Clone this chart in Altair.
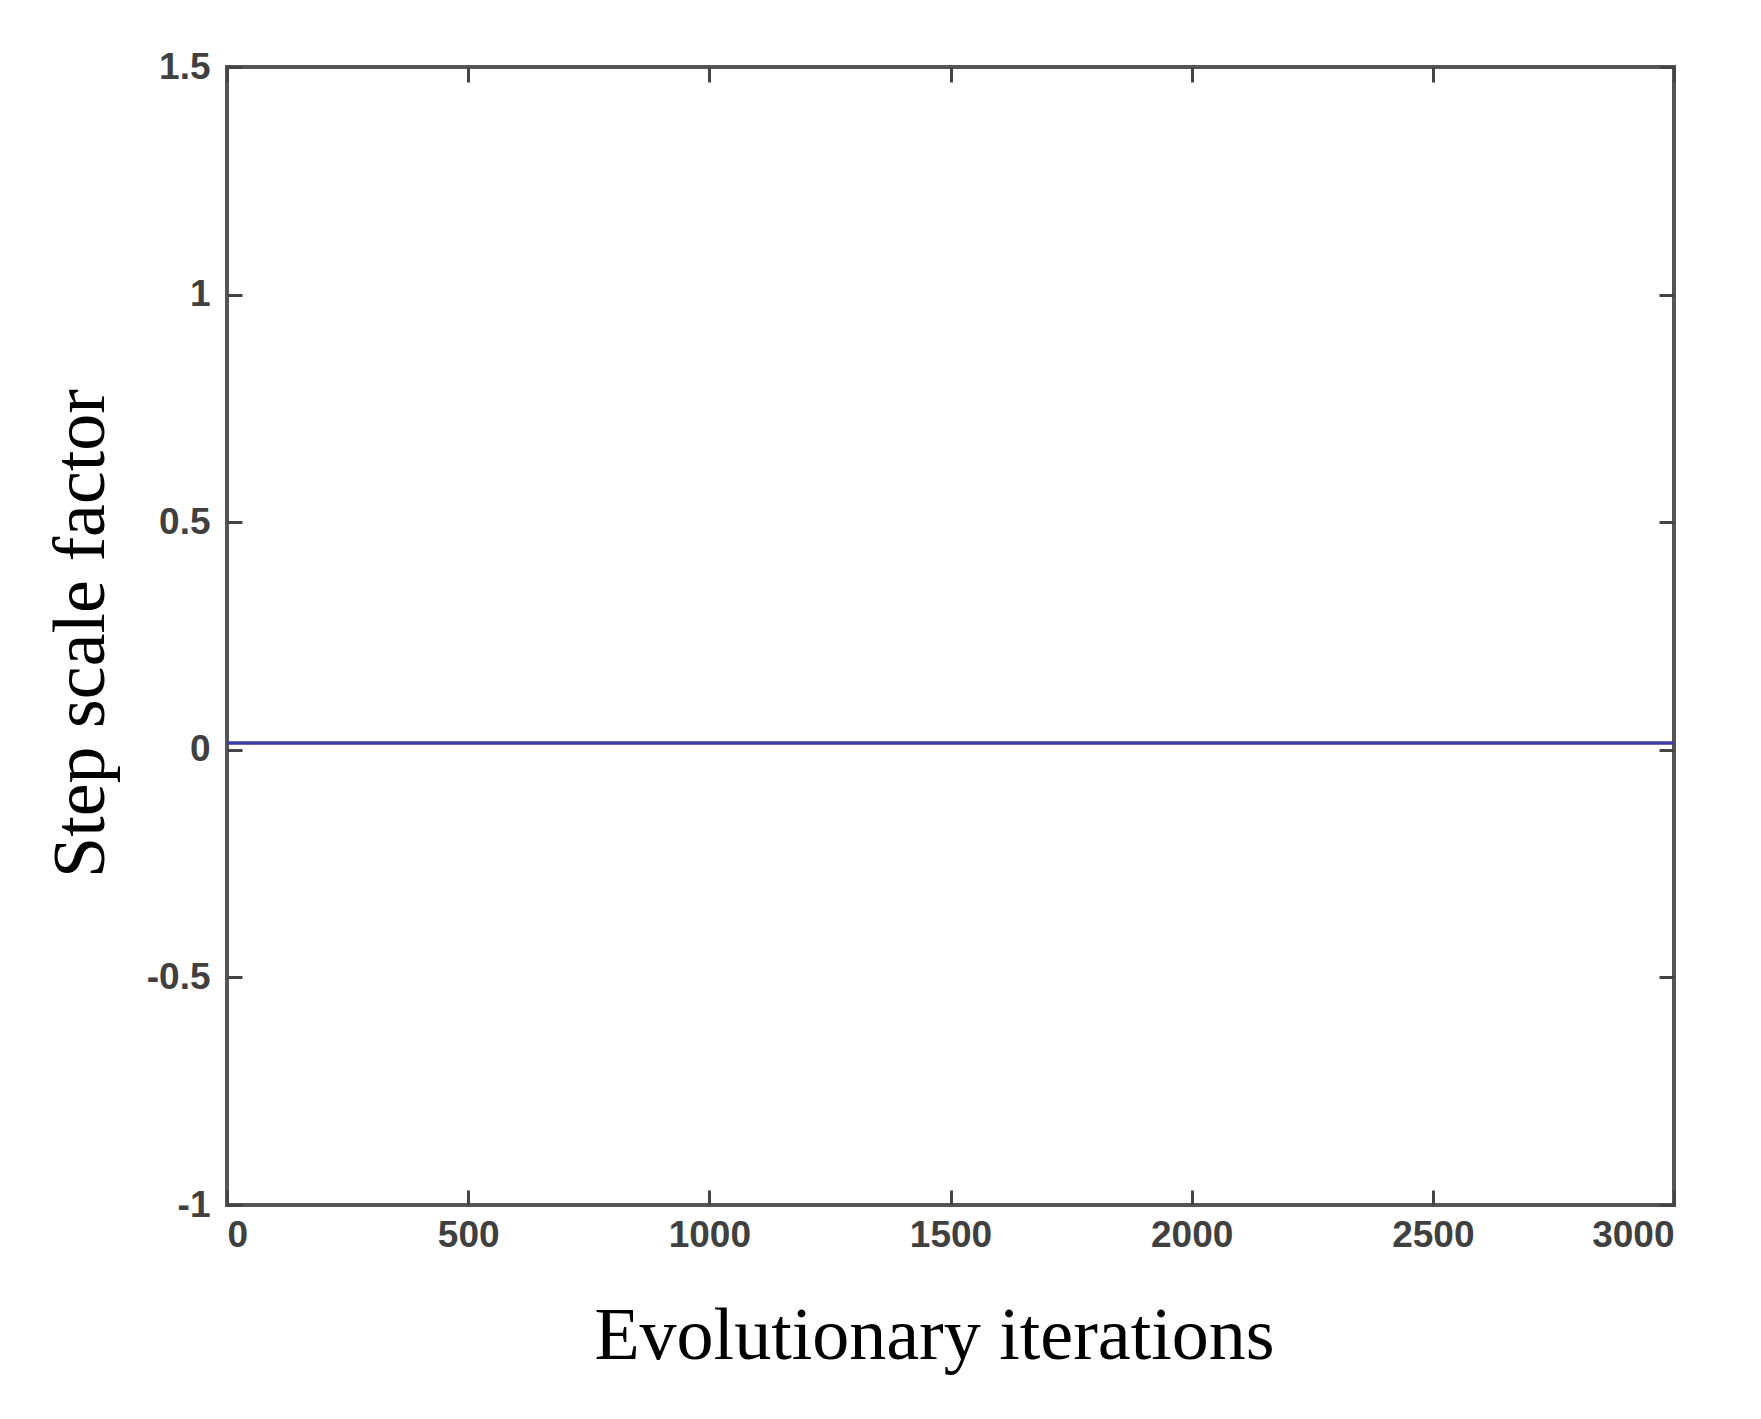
import altair as alt
import pandas as pd

# Data
iterations = [0, 500, 1000, 1500, 2000, 2500, 3000]
step_scale = [0.015, 0.015, 0.015, 0.015, 0.015, 0.015, 0.015]
x_ticks = [0, 500, 1000, 1500, 2000, 2500, 3000]
y_ticks = [-1, -0.5, 0, 0.5, 1, 1.5]

df = pd.DataFrame({"iter": iterations, "val": step_scale})

LABEL_FONT = "Liberation Sans"
TITLE_FONT = "Liberation Serif"
TICK_LEN = 15

x_scale = alt.Scale(domain=[0, 3000], nice=False, zero=False)
y_scale = alt.Scale(domain=[-1, 1.5], nice=False, zero=False)

common_axis = dict(
    domain=False, grid=False, tickSize=TICK_LEN, offset=-TICK_LEN,
    tickColor="#444444", tickWidth=3,
)

main = alt.Chart(df).mark_line(color="#3c3ca8", strokeWidth=3).encode(
    x=alt.X("iter:Q", scale=x_scale,
            axis=alt.Axis(orient="bottom", values=x_ticks, title="Evolutionary iterations",
                          labelExpr="'' + datum.value",
                          labelFont=LABEL_FONT, labelFontWeight="bold", labelFontSize=37,
                          labelColor="#404040", labelPadding=12,
                          titleFont=TITLE_FONT, titleFontSize=74, titleFontWeight="normal",
                          titleColor="#000000", titleX=707, titleY=168,
                          titleBaseline="alphabetic", titleAlign="center",
                          **common_axis)),
    y=alt.Y("val:Q", scale=y_scale,
            axis=alt.Axis(orient="left", values=y_ticks, title="Step scale factor",
                          labelExpr="'' + datum.value",
                          labelFont=LABEL_FONT, labelFontWeight="bold", labelFontSize=37,
                          labelColor="#404040", labelPadding=17,
                          titleFont=TITLE_FONT, titleFontSize=74, titleFontWeight="normal",
                          titleColor="#000000", titleX=-139, titleY=566, titleAngle=270,
                          titleBaseline="alphabetic", titleAlign="center",
                          **common_axis)),
)

mirror = alt.Chart(df).mark_line(color="#3c3ca8", strokeWidth=3).encode(
    x=alt.X("iter:Q", scale=x_scale,
            axis=alt.Axis(orient="top", values=x_ticks, title=None, labels=False,
                          **common_axis)),
    y=alt.Y("val:Q", scale=y_scale,
            axis=alt.Axis(orient="right", values=y_ticks, title=None, labels=False,
                          **common_axis)),
)

chart = alt.layer(main, mirror).resolve_axis(x="independent", y="independent").properties(
    width=1447, height=1138,
    autosize=alt.AutoSizeParams(type="none"),
    padding={"left": 219, "top": 59, "right": 60, "bottom": 200},
    background="white",
).configure_view(stroke="#555555", strokeWidth=4)

chart.save("out.html", embed_options={"renderer": "svg", "actions": False})
